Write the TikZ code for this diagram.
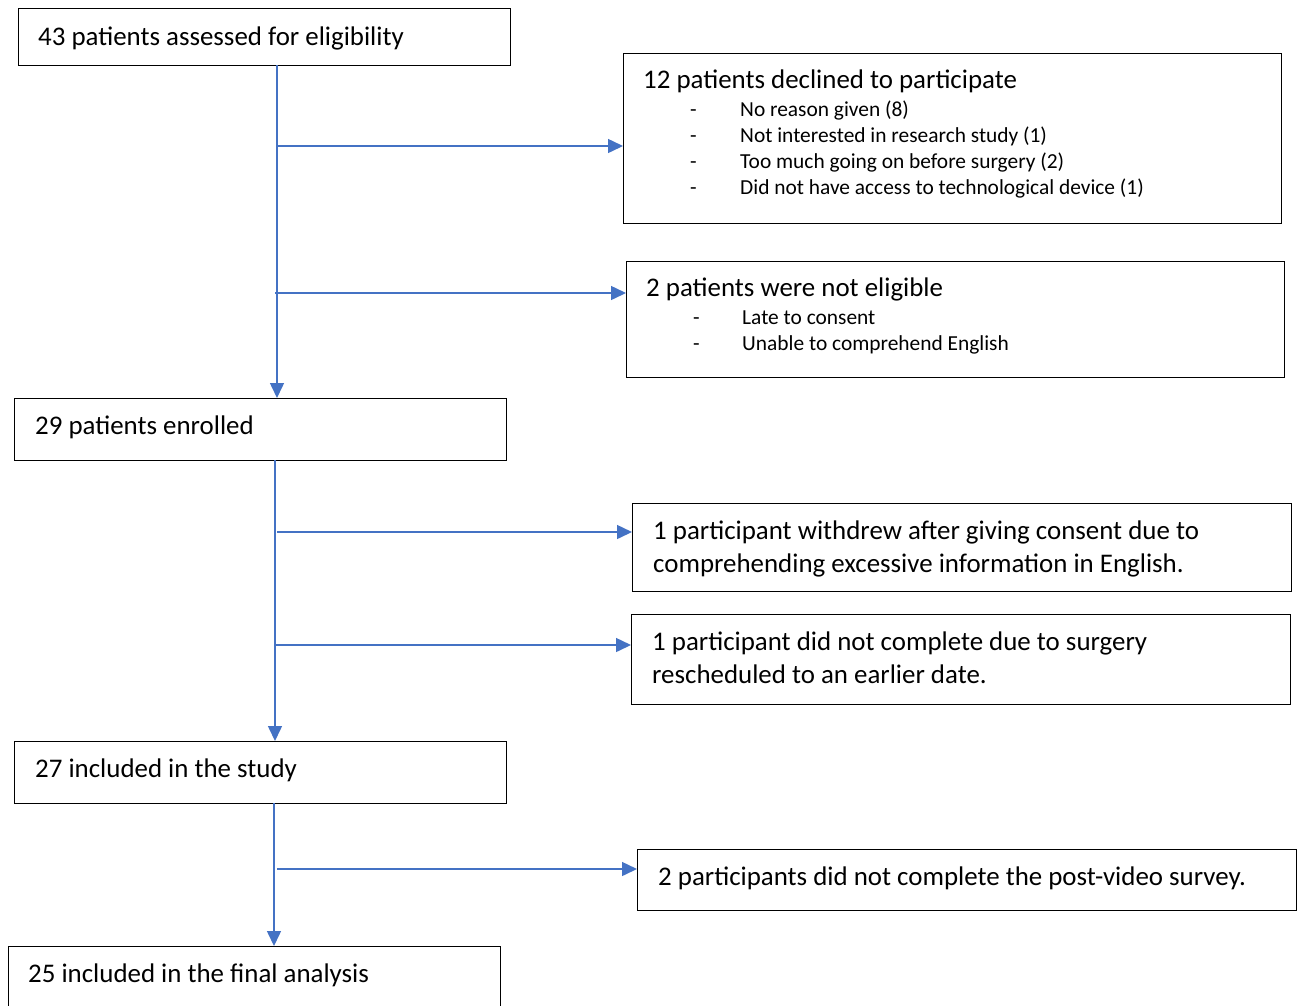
\documentclass[tikz,border=0pt]{standalone}
\usepackage{fontspec}
\setmainfont{Carlito}
\usetikzlibrary{arrows.meta}
\definecolor{flowblue}{HTML}{4472C4}
\begin{document}
\begin{tikzpicture}[x=1pt,y=-1pt,
  box/.style={draw=black, line width=1.3pt, anchor=north west, inner sep=0pt},
  flow/.style={draw=flowblue, line width=1.5pt, -{Triangle[length=15pt,width=14pt]}},
  big/.style={anchor=base west, inner sep=0pt, font=\fontsize{26.9}{33}\selectfont},
  small/.style={anchor=base west, inner sep=0pt, font=\fontsize{21.4}{26}\selectfont}]
\clip (0,0) rectangle (1301,1005);

% main column boxes
\node[box, minimum width=492pt, minimum height=57pt] (assessed) at (18,8) {};
\node[box, minimum width=492pt, minimum height=62pt] (enrolled) at (14,398) {};
\node[box, minimum width=492pt, minimum height=62pt] (included) at (14,741) {};
\node[box, minimum width=492pt, minimum height=80pt] (final) at (8,946) {};

% side boxes
\node[box, minimum width=658pt, minimum height=170pt] (declined) at (623,53) {};
\node[box, minimum width=658pt, minimum height=116pt] (noteligible) at (626,261) {};
\node[box, minimum width=659pt, minimum height=88pt] (withdrew) at (632,503) {};
\node[box, minimum width=659pt, minimum height=90pt] (rescheduled) at (631,614) {};
\node[box, minimum width=659pt, minimum height=61pt] (nosurvey) at (637,849) {};

% texts
\node[big] (tA) at (38,45) {43 patients assessed for eligibility};
\node[big] (tB) at (643,88) {12 patients declined to participate};
\node[small] (dB1) at (690,116) {-};
\node[small] (dB2) at (690,142) {-};
\node[small] (dB3) at (690,168) {-};
\node[small] (dB4) at (690,194) {-};
\node[small] (iB1) at (740,116) {No reason given (8)};
\node[small] (iB2) at (740,142) {Not interested in research study (1)};
\node[small] (iB3) at (740,168) {Too much going on before surgery (2)};
\node[small] (iB4) at (740,194) {Did not have access to technological device (1)};

\node[big] (tC) at (646,296) {2 patients were not eligible};
\node[small] (dC1) at (693,324) {-};
\node[small] (dC2) at (693,350) {-};
\node[small] (iC1) at (742,324) {Late to consent};
\node[small] (iC2) at (742,350) {Unable to comprehend English};

\node[big] (tD) at (35,434) {29 patients enrolled};
\node[big] (tE1) at (653,539) {1 participant withdrew after giving consent due to};
\node[big] (tE2) at (653,572) {comprehending excessive information in English.};
\node[big] (tF1) at (652,650) {1 participant did not complete due to surgery};
\node[big] (tF2) at (652,683) {rescheduled to an earlier date.};
\node[big] (tG) at (35,777) {27 included in the study};
\node[big] (tH) at (658,885) {2 participants did not complete the post-video survey.};
\node[big] (tI) at (28,982) {25 included in the final analysis};

% trunk start points and branch points
\coordinate (s1) at (277,65);
\coordinate (b1) at (277,146);
\coordinate (b2) at (275,293);
\coordinate (s2) at (275,460);
\coordinate (b3) at (277,532);
\coordinate (b4) at (275,645);
\coordinate (s3) at (274,803);
\coordinate (b5) at (277,869);

% connectors
\draw[flow] (s1) -- (s1 |- enrolled.north);
\draw[flow] (b1) -- (b1 -| declined.west);
\draw[flow] (b2) -- (b2 -| noteligible.west);
\draw[flow] (s2) -- (s2 |- included.north);
\draw[flow] (b3) -- (b3 -| withdrew.west);
\draw[flow] (b4) -- (b4 -| rescheduled.west);
\draw[flow] (s3) -- (s3 |- final.north);
\draw[flow] (b5) -- (b5 -| nosurvey.west);
\end{tikzpicture}
\end{document}
